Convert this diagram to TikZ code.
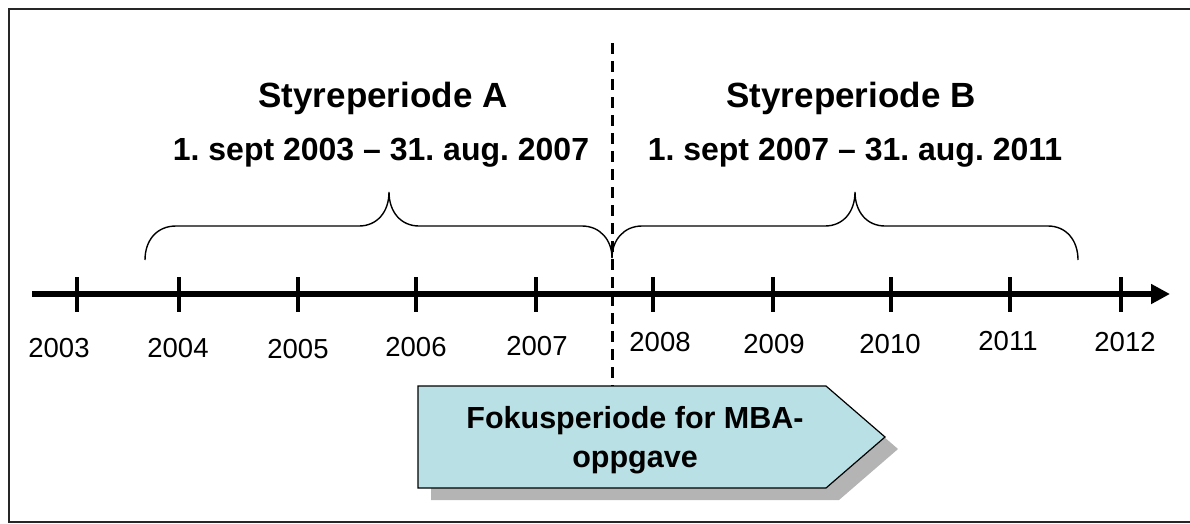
\documentclass[tikz,border=0pt]{standalone}
\usepackage{fontspec}
\setmainfont{Liberation Sans}
\usetikzlibrary{arrows.meta}
\definecolor{boxfill}{HTML}{B9E0E4}
\definecolor{shadowgray}{HTML}{B4B4B4}
\frenchspacing
\tikzset{
  titletext/.style={font=\fontsize{35}{42}\selectfont\bfseries, inner sep=0pt, anchor=base},
  datetext/.style={font=\fontsize{32}{38}\selectfont\bfseries\frenchspacing, inner sep=0pt, anchor=base},
  yeartext/.style={font=\fontsize{27.5}{33}\selectfont, inner sep=0pt, anchor=base},
  boxtext/.style={font=\fontsize{30.5}{39}\selectfont\bfseries, inner sep=0pt, align=center},
  axisline/.style={line width=6pt, -{Triangle[length=19pt,width=19pt]}},
  tickline/.style={line width=4pt},
  bracecurve/.style={line width=1.4pt},
  divider/.style={line width=3pt, dash pattern=on 11pt off 7pt},
  frameline/.style={line width=2pt, draw=black!85},
}
\begin{document}
\begin{tikzpicture}[x=1pt,y=-1pt]
\useasboundingbox (0,0) rectangle (1190,523);
\clip (0,0) rectangle (1190,523);
% frame
\draw[frameline] (8.5,9) rectangle (1200,521.5);
% headings
\node[titletext] (tA) at (383,107) {Styreperiode A};
\node[titletext] (tB) at (851,107) {Styreperiode B};
\node[datetext] (dA) at (381,160) {1. sept 2003 – 31. aug. 2007};
\node[datetext] (dB) at (855,160) {1. sept 2007 – 31. aug. 2011};
% braces
\draw[bracecurve] (145,260) .. controls (145,240) and (157,226) .. (176,226)
  -- (359,226) .. controls (377,226) and (389,212) .. (389,192)
  .. controls (389,212) and (401,226) .. (419,226)
  -- (582,226) .. controls (600,226) and (612,240) .. (612,258);
\draw[bracecurve] (612,258) .. controls (612,240) and (624,226) .. (642,226)
  -- (825,226) .. controls (843,226) and (855,212) .. (855,192)
  .. controls (855,212) and (867,226) .. (885,226)
  -- (1048,226) .. controls (1066,226) and (1078,240) .. (1078,260);
% axis
\coordinate (axL) at (32,294);
\coordinate (axR) at (1170,294);
\draw[axisline] (axL) -- (axR);
\foreach \x in {77,179,298,416,536,653,773,891,1010,1121}
  \draw[tickline] (\x,277) -- (\x,312);
% year labels
\node[yeartext] (y2003) at (59,357) {2003};
\node[yeartext] (y2004) at (178,357) {2004};
\node[yeartext] (y2005) at (298,358) {2005};
\node[yeartext] (y2006) at (416,356) {2006};
\node[yeartext] (y2007) at (537,355) {2007};
\node[yeartext] (y2008) at (660,351) {2008};
\node[yeartext] (y2009) at (774,353) {2009};
\node[yeartext] (y2010) at (890,353) {2010};
\node[yeartext] (y2011) at (1008,350) {2011};
\node[yeartext] (y2012) at (1125,351) {2012};
% divider
\coordinate (dvT) at (612,43);
\coordinate (dvB) at (612,388);
\draw[divider] (dvT) -- (dvB);
% focus box with shadow
\fill[shadowgray] (431,398) -- (839,398) -- (898,449) -- (839,500) -- (431,500) -- cycle;
\draw[fill=boxfill, line width=1.2pt] (418,386) -- (826,386) -- (885,437) -- (826,488) -- (418,488) -- cycle;
\node[boxtext] (focus) at (635,440) {Fokusperiode for MBA-\\oppgave};
\end{tikzpicture}
\end{document}
